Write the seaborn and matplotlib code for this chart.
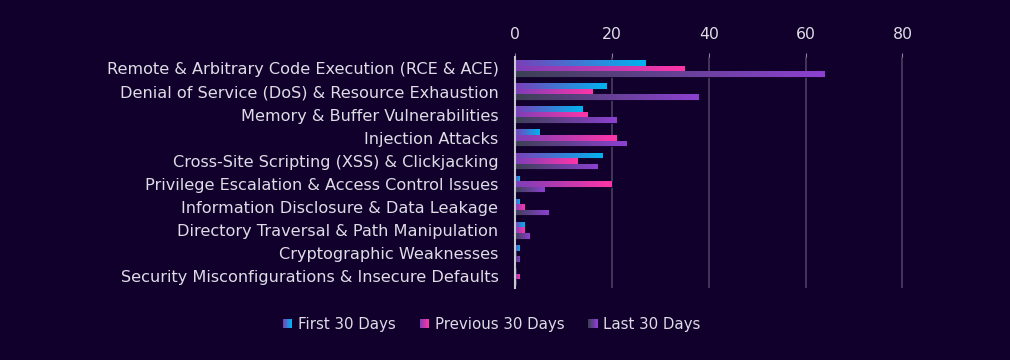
import numpy as np
import pandas as pd
import matplotlib
matplotlib.use("Agg")
import matplotlib.pyplot as plt
import seaborn as sns
from matplotlib.colors import LinearSegmentedColormap
from matplotlib.patches import Patch, Rectangle
from matplotlib.legend_handler import HandlerBase

categories = [
    "Remote & Arbitrary Code Execution (RCE & ACE)",
    "Denial of Service (DoS) & Resource Exhaustion",
    "Memory & Buffer Vulnerabilities",
    "Injection Attacks",
    "Cross-Site Scripting (XSS) & Clickjacking",
    "Privilege Escalation & Access Control Issues",
    "Information Disclosure & Data Leakage",
    "Directory Traversal & Path Manipulation",
    "Cryptographic Weaknesses",
    "Security Misconfigurations & Insecure Defaults",
]
series = ["First 30 Days", "Previous 30 Days", "Last 30 Days"]
first_30 = [27, 19, 14, 5, 18, 1, 1, 2, 1, 0]
previous_30 = [35, 16, 15, 21, 13, 20, 2, 2, 0, 1]
last_30 = [64, 38, 21, 23, 17, 6, 7, 3, 1, 0]

# gradient start/end colours per series
grads = {
    "First 30 Days": ("#7a3fb8", "#00b4f0"),
    "Previous 30 Days": ("#7a3fb8", "#ff35a8"),
    "Last 30 Days": ("#3c4155", "#8d40d2"),
}

bg = "#10002b"
txt = "#dedde6"

df = pd.DataFrame({
    "category": categories * 3,
    "series": np.repeat(series, len(categories)),
    "value": first_30 + previous_30 + last_30,
})


class GradHandler(HandlerBase):
    # legend swatch drawn as a strip of thin rectangles
    def create_artists(self, legend, orig_handle, xdescent, ydescent,
                       width, height, fontsize, trans):
        cmap = orig_handle.cmap
        n = 12
        side = min(width, height)
        x0 = -xdescent + (width - side)
        y0 = -ydescent + (height - side) / 2
        arts = []
        for i in range(n):
            r = Rectangle((x0 + side * i / n, y0), side / n + 0.2, side,
                          facecolor=cmap(i / (n - 1)), edgecolor="none",
                          transform=trans)
            arts.append(r)
        return arts


sns.set_style("white")
plt.rcParams["font.family"] = ["DejaVu Sans"]

fig = plt.figure(figsize=(10.1, 3.6), dpi=100, facecolor=bg)
ax = fig.add_axes([0.51, 0.20, 0.417, 0.642], facecolor=bg)

palette = {s: grads[s][1] for s in series}
sns.barplot(data=df, y="category", x="value", hue="series", orient="h",
            palette=palette, width=0.72, ax=ax, legend=False)

# paint gradients into each bar
for cont, s in zip(ax.containers, series):
    cmap = LinearSegmentedColormap.from_list(s, grads[s])
    for bar in cont:
        w = bar.get_width()
        if w <= 0:
            continue
        x0, y0 = bar.get_x(), bar.get_y()
        h = bar.get_height()
        bar.set_facecolor("none")
        bar.set_edgecolor("#1a0533")
        bar.set_linewidth(0.6)
        grad = np.linspace(0, 1, 256).reshape(1, -1)
        im = ax.imshow(grad, cmap=cmap, aspect="auto",
                       extent=[x0, x0 + w, y0 + h, y0], zorder=2)
        im.set_clip_path(bar)

ax.set_xlim(0, 87)
ax.set_ylim(len(categories) - 0.5, -0.5)

ax.set_xticks([0, 20, 40, 60, 80])
ax.xaxis.tick_top()
ax.tick_params(axis="x", colors="#8a8595", labelcolor=txt, labelsize=11.3,
               length=3, pad=8, top=True, bottom=False)
ax.tick_params(axis="y", labelcolor=txt, labelsize=11.6, length=0, pad=12)
ax.grid(axis="x", color="#4a3f60", linewidth=1.2, zorder=0)
ax.set_axisbelow(True)
ax.set_xlabel("")
ax.set_ylabel("")
for sp in ["top", "right", "bottom"]:
    ax.spines[sp].set_visible(False)
ax.spines["left"].set_color("#c8c8d0")
ax.spines["left"].set_linewidth(1.5)

handles = []
for s in series:
    p = Patch(label=s)
    p.cmap = LinearSegmentedColormap.from_list(s, grads[s])
    handles.append(p)
fig.legend(handles, series, loc="center", bbox_to_anchor=(0.487, 0.098), ncol=3,
           frameon=False, fontsize=10.8, labelcolor=txt, handlelength=0.6,
           handleheight=0.6, handletextpad=0.4, columnspacing=1.6,
           handler_map={Patch: GradHandler()})

fig.savefig("out.png", dpi=100, facecolor=bg)
